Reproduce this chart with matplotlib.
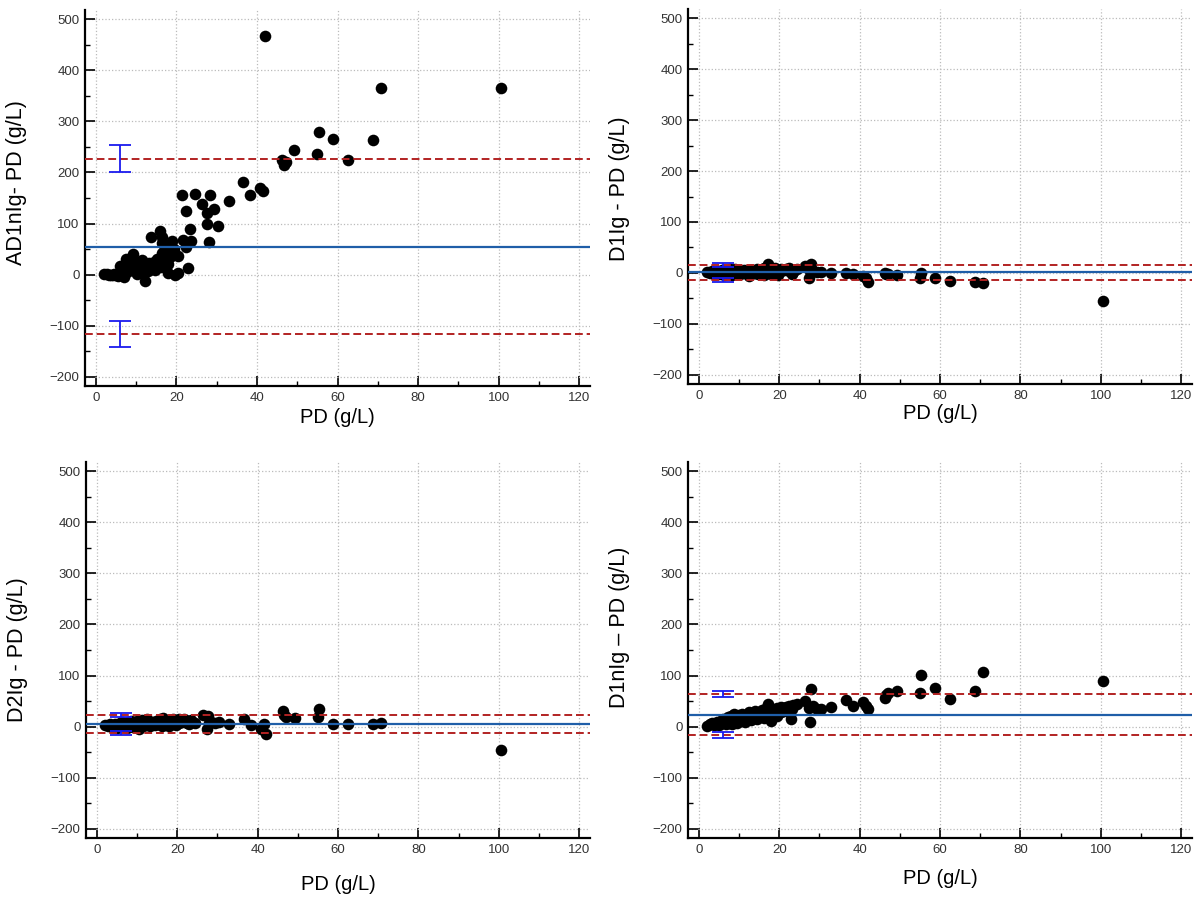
import numpy as np
import matplotlib
matplotlib.use('Agg')
import matplotlib.pyplot as plt
from matplotlib.ticker import MultipleLocator

plt.rcParams['font.family'] = ['Liberation Sans', 'DejaVu Sans']

# PD (g/L), shared x for the four panels
pd_vals = [2.0, 2.8, 3.3, 3.8, 4.2, 4.6, 5.0, 5.4, 5.8, 6.0, 6.3, 6.7, 7.0, 7.2, 7.5, 7.8,
           8.0, 8.2, 8.5, 8.8, 9.0, 9.3, 9.6, 9.9, 10.2, 10.5, 10.8, 11.2, 11.5, 11.8,
           12.2, 12.5, 12.9, 13.2, 13.7, 14.0, 14.4, 14.8, 15.2, 15.7, 16.0, 16.1, 16.3,
           16.4, 16.5, 16.8, 17.2, 17.9, 18.0, 18.5, 19.0, 19.4, 19.4, 19.7, 20.4, 20.5,
           21.3, 21.7, 22.4, 22.5, 23.0, 23.3, 23.5, 24.5, 26.3, 27.5, 27.7, 28.0, 28.3,
           29.3, 30.3,
           33.0, 36.5, 38.3, 40.8, 41.5, 42.0, 46.3, 46.6, 47.1, 49.3, 55.0, 55.3, 58.8,
           62.5, 68.7, 70.7, 100.6]

diff_ad1nig = [2, 1, 0, -1, 0, 1, 0, -2, 3, 16, 2, 8, -5, 12, 30, 5, 22, 31, 10, 18,
               35, 40, 8, 25, 2, 15, 20, 6, 28, 12, -12, 18, 8, 22, 73, 15, 25, 10, 30, 28,
               86, 15, 43, 73, 62, 40, 50, 3, 21, 35, 65, 43, 50, 0, 37, 4,
               156, 68, 124, 54, 12, 89, 66, 157, 139, 120, 99, 63, 156, 128, 96,
               144, 182, 155, 170, 164, 467, 225, 214, 220, 244, 237, 280, 266, 225, 264,
               366, 366]
diff_d1ig = [2, 0, 3, -2, 1, 4, -3, 0, 5, 2, -4, 6, 1, -1, 3, 8, 0, -5, 4, 2,
             7, -2, 1, 5, -3, 3, 0, 6, -1, 2, 4, -6, 1, 5, 3, 0, 8, -2, 4, 6,
             2, -4, 10, 1, 3, 5, 17, -3, 6, 2, 9, 0, 4, -5, 7, 3,
             5, 8, 3, 10, 6, -3, 2, 7, 13, -10, 4, 17, 3, 2, 1,
             0, 0, -2, -7, -10, -17, 0, -2, -3, -4, -9, 0, -10, -15, -18, -20, -55]
diff_d2ig = [3, 1, 5, 0, 2, 6, -2, 4, 8, 3, 10, 1, 5, 7, -3, 9, 4, 2, 12, 6,
             0, 8, 3, 11, 5, -4, 7, 13, 2, 9, 4, 15, 6, 1, 10, 8, 3, 12, 5, 14,
             7, 2, 11, 6, 16, 9, 4, 13, 1, 10, 15, 6, 12, 3, 14, 8,
             10, 14, 8, 12, 5, 9, 13, 7, 23, -5, 21, 8, 10, 8, 9,
             5, 14, 3, -5, 6, -15, 30, 22, 18, 16, 18, 35, 5, 5, 5, 8, -46]
diff_d1nig = [2, 5, 8, 3, 6, 10, 4, 12, 7, 15, 9, 5, 13, 18, 8, 11, 20, 6, 14, 24,
              10, 16, 8, 22, 12, 19, 25, 14, 9, 21, 17, 28, 13, 23, 18, 30, 15, 26, 20, 33,
              24, 16, 29, 22, 35, 19, 44, 27, 12, 31, 25, 36, 21, 33, 28, 38,
              30, 38, 40, 28, 15, 35, 42, 45, 50, 37, 10, 73, 40, 35, 34,
              39, 53, 41, 48, 41, 35, 57, 62, 65, 70, 65, 101, 76, 55, 69, 106, 90]

ylabels = ['AD1nIg- PD (g/L)', 'D1Ig - PD (g/L)', 'D2Ig - PD (g/L)', 'D1nIg \u2013 PD (g/L)']
# mean bias, upper limit, lower limit, half width of limit CI
means = [55, 1, 5, 23]
upper = [227, 15, 22, 64]
lower = [-116, -13, -13, -16]
ci_half = [26, 4, 4, 6]

W, H = 1197, 899
# axes boxes in pixels: left, right, top, bottom
boxes = [(85, 590, 10, 386), (688, 1192, 9, 384), (86, 590, 462, 838), (688, 1192, 462, 838)]
ylab_pos = [0.54, 0.52, 0.5, 0.56]
xlab_pad = [3, 2, 14, 10]
diffs = [diff_ad1nig, diff_d1ig, diff_d2ig, diff_d1nig]

fig = plt.figure(figsize=(W / 100, H / 100), dpi=100)
x = np.array(pd_vals)
for i in range(4):
    l, r, t, b = boxes[i]
    ax = fig.add_axes([l / W, 1 - b / H, (r - l) / W, (b - t) / H])
    ax.scatter(x, diffs[i], s=70, color='black', zorder=2, linewidths=0)
    ax.axhline(means[i], color='#1f5ea8', lw=1.6, zorder=3)
    ax.axhline(upper[i], color='#b22222', lw=1.4, ls=(0, (4, 2)), zorder=3)
    ax.axhline(lower[i], color='#b22222', lw=1.4, ls=(0, (4, 2)), zorder=3)
    ax.errorbar([6, 6], [upper[i], lower[i]], yerr=ci_half[i], fmt='none',
                ecolor='#1a1aee', elinewidth=1.3, capsize=8, capthick=1.3, zorder=4)
    ax.set_xlim(-2.7, 122.7)
    ax.set_ylim(-218, 518)
    ax.xaxis.set_major_locator(MultipleLocator(20))
    ax.xaxis.set_minor_locator(MultipleLocator(10))
    ax.yaxis.set_major_locator(MultipleLocator(100))
    ax.yaxis.set_minor_locator(MultipleLocator(50))
    ax.grid(True, which='major', color='#bbbbbb', ls=':', lw=0.9, zorder=0)
    ax.set_axisbelow(True)
    for s in ['top', 'right']:
        ax.spines[s].set_visible(False)
    for s in ['left', 'bottom']:
        ax.spines[s].set_linewidth(1.6)
    ax.tick_params(which='major', direction='in', length=7, width=1.2,
                   labelsize=9.5, labelcolor='#333333', pad=4)
    ax.tick_params(which='minor', direction='in', length=3.5, width=1.0)
    ax.set_ylabel(ylabels[i], fontsize=15.5)
    ax.yaxis.set_label_coords(-0.115, ylab_pos[i])
    ax.set_xlabel('PD (g/L)', fontsize=14.5, labelpad=xlab_pad[i])

fig.savefig('out.png', dpi=100)
